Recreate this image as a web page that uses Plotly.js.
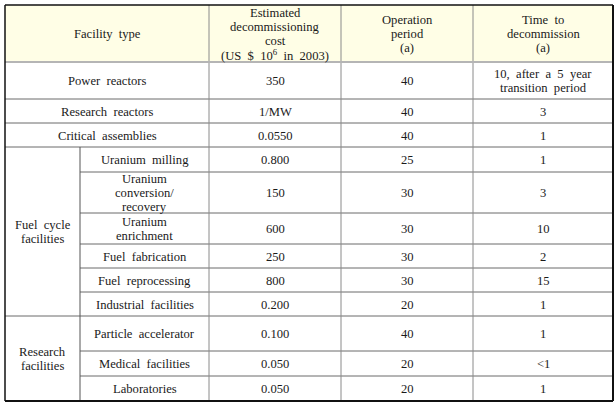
<!DOCTYPE html>
<html><head><meta charset="utf-8">
<script src="https://cdn.plot.ly/plotly-3.0.1.min.js"></script>
<style>html,body{margin:0;padding:0;background:#fff}#chart{width:615px;height:409px}</style>
</head><body><div id="chart"></div>
<script>
// ---- data ----
const headers = ['Facility type', 'Estimated<br>decommissioning<br>cost<br>(US $ 10<sup>6</sup> in 2003)', 'Operation<br>period<br>(a)', 'Time to<br>decommission<br>(a)'];
const groups = ['', '', '', 'Fuel cycle<br>facilities', 'Fuel cycle<br>facilities', 'Fuel cycle<br>facilities', 'Fuel cycle<br>facilities', 'Fuel cycle<br>facilities', 'Fuel cycle<br>facilities', 'Research<br>facilities', 'Research<br>facilities', 'Research<br>facilities'];
const facilities = ['Power reactors', 'Research reactors', 'Critical assemblies', 'Uranium milling', 'Uranium<br>conversion/<br>recovery', 'Uranium<br>enrichment', 'Fuel fabrication', 'Fuel reprocessing', 'Industrial facilities', 'Particle accelerator', 'Medical facilities', 'Laboratories'];
const costs = ['350', '1/MW', '0.0550', '0.800', '150', '600', '250', '800', '0.200', '0.100', '0.050', '0.050'];
const operation = ['40', '40', '40', '25', '30', '30', '30', '30', '20', '40', '20', '20'];
const timeToDecommission = ['10, after a 5 year<br>transition period', '3', '1', '1', '3', '10', '2', '15', '1', '1', '<1', '1'];

// ---- layout geometry (pixels in axis units) ----
const colX = [5, 80, 209, 341, 473, 613];
const rowY = [5, 62, 99, 123, 147, 172, 213, 244, 268, 292, 316, 351, 376, 401];
const lineH = 14;
const FONT = {family: '"Liberation Serif", "Times New Roman", serif', size: 12.6, color: '#1a1a1a'};

const shapes = [];
const annotations = [];

function addText(txt, x0, x1, y0, y1) {
  const lines = txt.split('<br>');
  const cx = (x0 + x1) / 2, cy = (y0 + y1) / 2;
  lines.forEach((ln, k) => {
    annotations.push({
      x: cx, y: cy + (k - (lines.length - 1) / 2) * lineH + 0.5,
      xref: 'x', yref: 'y', showarrow: false, borderpad: 0,
      text: ln.replace(/ /g, '\u2002'),
      font: FONT, xanchor: 'center', yanchor: 'middle'
    });
  });
}
function hline(x0, x1, y, color, w) {
  shapes.push({type: 'line', xref: 'x', yref: 'y', x0, x1, y0: y, y1: y, line: {color, width: w}});
}
function vline(x, y0, y1, color, w) {
  shapes.push({type: 'line', xref: 'x', yref: 'y', x0: x, x1: x, y0, y1, line: {color, width: w}});
}

shapes.push({type: 'rect', xref: 'x', yref: 'y', x0: colX[0], x1: colX[5], y0: rowY[0], y1: rowY[1], fillcolor: '#FFFEE6', line: {width: 0}, layer: 'below'});

addText(headers[0], colX[0], colX[2], rowY[0], rowY[1]);
for (let c = 1; c < 4; c++) addText(headers[c], colX[c + 1], colX[c + 2], rowY[0], rowY[1]);

const n = facilities.length;
for (let i = 0; i < n; i++) {
  const y0 = rowY[i + 1], y1 = rowY[i + 2];
  if (groups[i] === '') addText(facilities[i], colX[0], colX[2], y0, y1);
  else addText(facilities[i], colX[1], colX[2], y0, y1);
  addText(costs[i], colX[2], colX[3], y0, y1);
  addText(operation[i], colX[3], colX[4], y0, y1);
  addText(timeToDecommission[i], colX[4], colX[5], y0, y1);
  if (i < n - 1) {
    const sameGroup = groups[i] !== '' && groups[i] === groups[i + 1];
    hline(sameGroup ? colX[1] : colX[0], colX[5], y1, '#6a6a6a', 1);
  }
}
let s = 0;
while (s < n) {
  let e = s;
  while (e + 1 < n && groups[e + 1] === groups[s]) e++;
  if (groups[s] !== '') {
    addText(groups[s], colX[0], colX[1], rowY[s + 1], rowY[e + 2]);
    vline(colX[1], rowY[s + 1], rowY[e + 2], '#555', 1);
  }
  s = e + 1;
}
for (let c = 2; c <= 4; c++) vline(colX[c], rowY[0], rowY[rowY.length - 1], '#8a8a8a', 1);
hline(colX[0], colX[5], rowY[1], '#b5b5b5', 2);
hline(colX[0], colX[5], rowY[0], '#111', 1.5);
hline(colX[0], colX[5], rowY[rowY.length - 1], '#111', 2);
vline(colX[0], rowY[0], rowY[rowY.length - 1], '#111', 1.5);
vline(colX[5], rowY[0], rowY[rowY.length - 1], '#111', 2);

const layout = {
  width: 615, height: 409,
  margin: {l: 0, r: 0, t: 0, b: 0, pad: 0},
  paper_bgcolor: '#fff', plot_bgcolor: '#fff',
  font: {family: '"Liberation Serif", serif'},
  xaxis: {range: [0, 615], visible: false, fixedrange: true},
  yaxis: {range: [409, 0], visible: false, fixedrange: true},
  showlegend: false,
  shapes, annotations
};
Plotly.newPlot('chart', [], layout, {staticPlot: true, displayModeBar: false});
</script></body></html>
